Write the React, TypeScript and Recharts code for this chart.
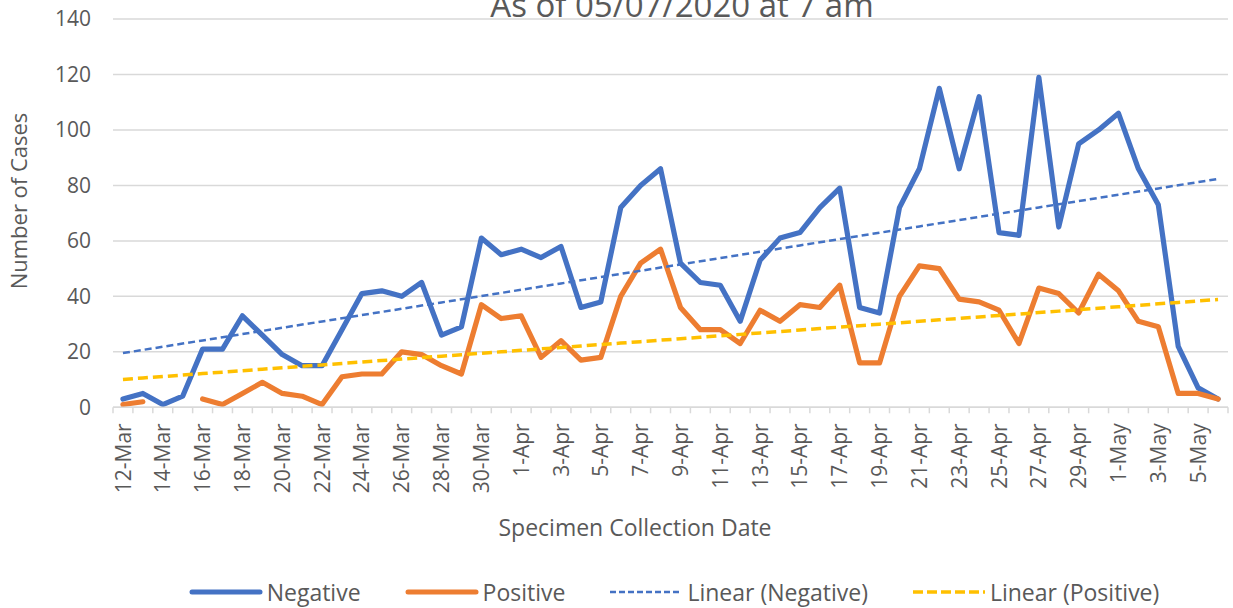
import React from 'react';
import { LineChart, Line, XAxis, YAxis, CartesianGrid, Legend, Customized } from 'recharts';

const dates = [
  '12-Mar', '13-Mar', '14-Mar', '15-Mar', '16-Mar', '17-Mar', '18-Mar', '19-Mar', '20-Mar', '21-Mar',
  '22-Mar', '23-Mar', '24-Mar', '25-Mar', '26-Mar', '27-Mar', '28-Mar', '29-Mar', '30-Mar', '31-Mar',
  '1-Apr', '2-Apr', '3-Apr', '4-Apr', '5-Apr', '6-Apr', '7-Apr', '8-Apr', '9-Apr', '10-Apr',
  '11-Apr', '12-Apr', '13-Apr', '14-Apr', '15-Apr', '16-Apr', '17-Apr', '18-Apr', '19-Apr', '20-Apr',
  '21-Apr', '22-Apr', '23-Apr', '24-Apr', '25-Apr', '26-Apr', '27-Apr', '28-Apr', '29-Apr', '30-Apr',
  '1-May', '2-May', '3-May', '4-May', '5-May', '6-May',
];

const negative = [
  3, 5, 1, 4, 21, 21, 33, 26, 19, 15,
  15, 28, 41, 42, 40, 45, 26, 29, 61, 55,
  57, 54, 58, 36, 38, 72, 80, 86, 52, 45,
  44, 31, 53, 61, 63, 72, 79, 36, 34, 72,
  86, 115, 86, 112, 63, 62, 119, 65, 95, 100,
  106, 86, 73, 22, 7, 3,
];

const positive: (number | null)[] = [
  1, 2, null, null, 3, 1, 5, 9, 5, 4,
  1, 11, 12, 12, 20, 19, 15, 12, 37, 32,
  33, 18, 24, 17, 18, 40, 52, 57, 36, 28,
  28, 23, 35, 31, 37, 36, 44, 16, 16, 40,
  51, 50, 39, 38, 35, 23, 43, 41, 34, 48,
  42, 31, 29, 5, 5, 3,
];

const yTicks = [0, 20, 40, 60, 80, 100, 120, 140];

const BLUE = '#4472C4';
const ORANGE = '#ED7D31';
const YELLOW = '#FFC000';
const TEXT = '#595959';
const GRID = '#D9D9D9';
const FONT = '"Open Sans", "Noto Sans", sans-serif';

const W = 1233;
const H = 608;
const PLOT_LEFT = 113;
const PLOT_RIGHT = 1228;
const PLOT_TOP = 19;
const PLOT_BOTTOM = 407.3;
const LEGEND_H = 32;
const X_AXIS_H = H - PLOT_BOTTOM - LEGEND_H;
const BAND = (PLOT_RIGHT - PLOT_LEFT) / dates.length;

// least-squares linear trend (like Excel's "Linear" trendline), computed from the series
function linearTrend(values: (number | null)[]): number[] {
  const pts = values
    .map((v, i) => (v == null ? null : [i, v]))
    .filter((p): p is number[] => p !== null);
  const n = pts.length;
  const mx = pts.reduce((s, p) => s + p[0], 0) / n;
  const my = pts.reduce((s, p) => s + p[1], 0) / n;
  let num = 0;
  let den = 0;
  pts.forEach(([x, y]) => {
    num += (x - mx) * (y - my);
    den += (x - mx) * (x - mx);
  });
  const slope = num / den;
  const icpt = my - slope * mx;
  return values.map((_, i) => icpt + slope * i);
}

const trendNeg = linearTrend(negative);
const trendPos = linearTrend(positive);

const data = dates.map((d, i) => ({
  date: d,
  negative: negative[i],
  positive: positive[i],
  trendNeg: trendNeg[i],
  trendPos: trendPos[i],
}));

const XTick = (props: any) => {
  const { x, payload } = props;
  const index = props.index ?? payload?.index ?? 0;
  const half = BAND / 2;
  const ty = PLOT_BOTTOM + 16;
  return (
    <g>
      <line x1={x - half} x2={x - half} y1={PLOT_BOTTOM} y2={PLOT_BOTTOM + 6} stroke={GRID} strokeWidth={1.5} />
      {index === dates.length - 1 && (
        <line x1={x + half} x2={x + half} y1={PLOT_BOTTOM} y2={PLOT_BOTTOM + 6} stroke={GRID} strokeWidth={1.5} />
      )}
      {index % 2 === 0 && (
        <text
          x={x}
          y={ty}
          transform={`rotate(-90, ${x}, ${ty})`}
          textAnchor="end"
          dy="0.36em"
          fill={TEXT}
          fontSize={21}
          fontFamily={FONT}
        >
          {payload.value}
        </text>
      )}
    </g>
  );
};

const legendItems = [
  { label: 'Negative', color: BLUE, width: 5, dash: undefined as string | undefined },
  { label: 'Positive', color: ORANGE, width: 5, dash: undefined as string | undefined },
  { label: 'Linear (Negative)', color: BLUE, width: 2.5, dash: '6 3' },
  { label: 'Linear (Positive)', color: YELLOW, width: 3.5, dash: '10 4' },
];

const LegendContent = () => (
  <div
    style={{
      display: 'flex',
      justifyContent: 'center',
      alignItems: 'center',
      height: LEGEND_H,
      paddingLeft: 120,
      fontFamily: FONT,
      fontSize: 23,
      color: TEXT,
    }}
  >
    {legendItems.map((it, i) => (
      <div key={it.label} style={{ display: 'flex', alignItems: 'center', marginLeft: i === 0 ? 0 : 44 }}>
        <svg width={74} height={12} style={{ marginRight: 4 }}>
          <line
            x1={it.dash ? 1 : 3}
            x2={it.dash ? 73 : 71}
            y1={6}
            y2={6}
            stroke={it.color}
            strokeWidth={it.width}
            strokeDasharray={it.dash}
            strokeLinecap={it.dash ? 'butt' : 'round'}
          />
        </svg>
        <span style={{ whiteSpace: 'nowrap' }}>{it.label}</span>
      </div>
    ))}
  </div>
);

const Titles = () => (
  <g fontFamily={FONT} fill={TEXT}>
    <text x={682} y={17} textAnchor="middle" fontSize={33} fill={TEXT}>
      As of 05/07/2020 at 7 am
    </text>
    <text x={635} y={536} textAnchor="middle" fontSize={23} fill={TEXT}>
      Specimen Collection Date
    </text>
    <text
      x={27}
      y={201}
      textAnchor="middle"
      fontSize={22}
      fill={TEXT}
      transform="rotate(-90, 27, 201)"
    >
      Number of Cases
    </text>
  </g>
);

export default function App() {
  return (
    <div style={{ position: 'absolute', left: 0, top: 0, width: W, height: H, background: '#fff' }}>
      <LineChart
        width={W}
        height={H}
        data={data}
        margin={{ top: PLOT_TOP, right: W - PLOT_RIGHT, left: 0, bottom: 0 }}
      >
        <CartesianGrid vertical={false} stroke={GRID} strokeWidth={1.5} />
        <XAxis
          dataKey="date"
          scale="band"
          interval={0}
          height={X_AXIS_H}
          axisLine={{ stroke: GRID, strokeWidth: 1.5 }}
          tickLine={false}
          tick={<XTick />}
        />
        <YAxis
          width={PLOT_LEFT}
          domain={[0, 140]}
          ticks={yTicks}
          axisLine={false}
          tickLine={false}
          tickMargin={16}
          tick={{ fill: TEXT, fontSize: 21, fontFamily: FONT }}
        />
        <Legend verticalAlign="bottom" height={LEGEND_H} content={<LegendContent />} />
        <Line
          type="linear"
          dataKey="negative"
          name="Negative"
          stroke={BLUE}
          strokeWidth={5.2}
          strokeLinejoin="round"
          strokeLinecap="round"
          dot={false}
          activeDot={false}
          isAnimationActive={false}
        />
        <Line
          type="linear"
          dataKey="positive"
          name="Positive"
          stroke={ORANGE}
          strokeWidth={5.2}
          strokeLinejoin="round"
          strokeLinecap="round"
          dot={false}
          activeDot={false}
          isAnimationActive={false}
        />
        <Line
          type="linear"
          dataKey="trendNeg"
          name="Linear (Negative)"
          stroke={BLUE}
          strokeWidth={2.5}
          strokeDasharray="7 4"
          dot={false}
          activeDot={false}
          isAnimationActive={false}
        />
        <Line
          type="linear"
          dataKey="trendPos"
          name="Linear (Positive)"
          stroke={YELLOW}
          strokeWidth={3.5}
          strokeDasharray="10 5"
          dot={false}
          activeDot={false}
          isAnimationActive={false}
        />
        <Customized component={Titles} />
      </LineChart>
    </div>
  );
}
